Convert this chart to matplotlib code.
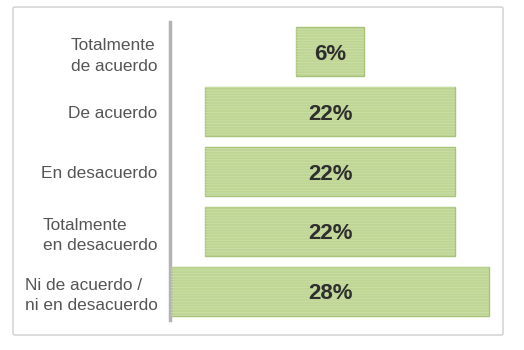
import matplotlib.pyplot as plt
from matplotlib.patches import FancyBboxPatch

# categories from top to bottom
categories = ["Totalmente\nde acuerdo", "De acuerdo", "En desacuerdo",
              "Totalmente\nen desacuerdo", "Ni de acuerdo /\nni en desacuerdo"]
values = [6, 22, 22, 22, 28]
value_labels = ["6%", "22%", "22%", "22%", "28%"]

plt.rcParams["hatch.linewidth"] = 0.7
plt.rcParams["font.family"] = ["Liberation Sans", "DejaVu Sans"]

fig = plt.figure(figsize=(5.24, 3.5), dpi=100)

# outer light frame
frame = FancyBboxPatch((13 / 524, 15 / 350), 490 / 524, 328 / 350,
                       boxstyle="round,pad=0,rounding_size=0.004",
                       transform=fig.transFigure, facecolor="none",
                       edgecolor="#d6d6d6", linewidth=1.2, zorder=-1)
fig.patches.append(frame)

ax = fig.add_axes([170 / 524, 30 / 350, 325 / 524, 298 / 350])
ax.patch.set_alpha(0)

ypos = list(range(len(values)))
lefts = [-v / 2 for v in values]

# funnel bars, centred on zero
ax.barh(ypos, values, left=lefts, height=0.82, color="#bed594",
        edgecolor="#a8c27a", linewidth=1.0, zorder=2)
# faint horizontal stripes
ax.barh(ypos, values, left=lefts, height=0.82, facecolor="none",
        edgecolor="#cadea6", hatch="------", linewidth=0, zorder=3)

for y, lab in zip(ypos, value_labels):
    ax.text(0, y, lab, ha="center", va="center_baseline", fontsize=16,
            fontweight="bold", color="#2e2e2e", zorder=4)

ax.set_xlim(-14.1, 14.5)
ax.set_ylim(4.48, -0.5)
ax.set_xticks([])
ax.set_yticks(ypos)
ax.set_yticklabels(categories, fontsize=12.4, color="#555555",
                   multialignment="left", linespacing=1.45)
ax.tick_params(axis="y", length=0, pad=9)

for side in ["top", "right", "bottom"]:
    ax.spines[side].set_visible(False)
ax.spines["left"].set_color("#b3b3b3")
ax.spines["left"].set_linewidth(2.5)

fig.savefig("out.png", dpi=100)
